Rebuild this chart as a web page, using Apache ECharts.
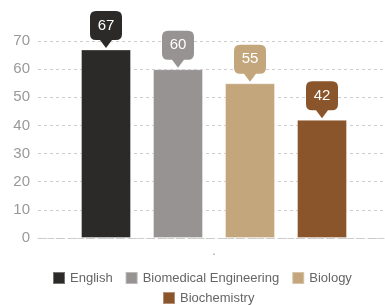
<!DOCTYPE html>
<html>
<head>
<meta charset="utf-8">
<script src="https://cdn.jsdelivr.net/npm/echarts@6/dist/echarts.min.js"></script>
<style>html,body{margin:0;padding:0;background:#fff}#c{width:385px;height:305px}</style>
</head>
<body>
<div id="c"></div>
<script>
var categories = ['.'];
var seriesNames = ['English', 'Biomedical Engineering', 'Biology', 'Biochemistry'];
var seriesValues = [[67], [60], [55], [42]];
var colors = ['#2c2a29', '#979392', '#c4a67c', '#8b552b'];
var yTicks = { min: 0, max: 70, interval: 10 };

var calloutPath = 'path://M6,0 H26 Q32,0 32,6 V23 Q32,29 26,29 H22 L16,37 L10,29 H6 Q0,29 0,23 V6 Q0,0 6,0 Z';

var chart = echarts.init(document.getElementById('c'), null, { renderer: 'canvas' });
var series = seriesNames.map(function (name, i) {
  return {
    name: name,
    type: 'bar',
    data: seriesValues[i],
    barWidth: 50,
    barGap: '44%',
    itemStyle: { color: colors[i], borderColor: 'rgba(255,255,255,0.35)', borderWidth: 1 },
    markPoint: {
      symbol: calloutPath,
      symbolSize: [32, 37],
      symbolOffset: [0, -20],
      symbolKeepAspect: false,
      itemStyle: { color: colors[i] },
      label: { show: true, color: '#fff', fontSize: 15, fontFamily: 'Liberation Sans, Arial, sans-serif', offset: [0, -4] },
      data: [{ type: 'max' }]
    }
  };
});

chart.setOption({
  animation: false,
  textStyle: { fontFamily: 'Liberation Sans, Arial, sans-serif' },
  grid: { left: 38, right: -5, top: 41, bottom: 67, outerBoundsMode: 'none', containLabel: false },
  legend: [
    {
      data: seriesNames.slice(0, 3),
      left: 47, bottom: 15,
      itemWidth: 12, itemHeight: 12, itemGap: 12,
      icon: 'rect',
      textStyle: { color: '#666', fontSize: 13 }
    },
    {
      data: seriesNames.slice(3),
      left: 157, bottom: 0,
      padding: [5, 5, 0, 5],
      itemWidth: 12, itemHeight: 12,
      icon: 'rect',
      textStyle: { color: '#666', fontSize: 13 }
    }
  ],
  xAxis: {
    type: 'category',
    data: categories,
    axisLine: { show: true, lineStyle: { color: '#ccc', type: [6, 4], width: 1 } },
    axisTick: { show: false },
    axisLabel: { color: '#999', fontSize: 12, margin: 8 }
  },
  yAxis: {
    type: 'value',
    min: yTicks.min, max: yTicks.max, interval: yTicks.interval,
    axisLine: { show: false },
    axisTick: { show: false },
    axisLabel: { color: '#999', fontSize: 15, margin: 8 },
    splitLine: { lineStyle: { color: '#ccc', type: [3, 3] } }
  },
  series: series
});
</script>
</body>
</html>
